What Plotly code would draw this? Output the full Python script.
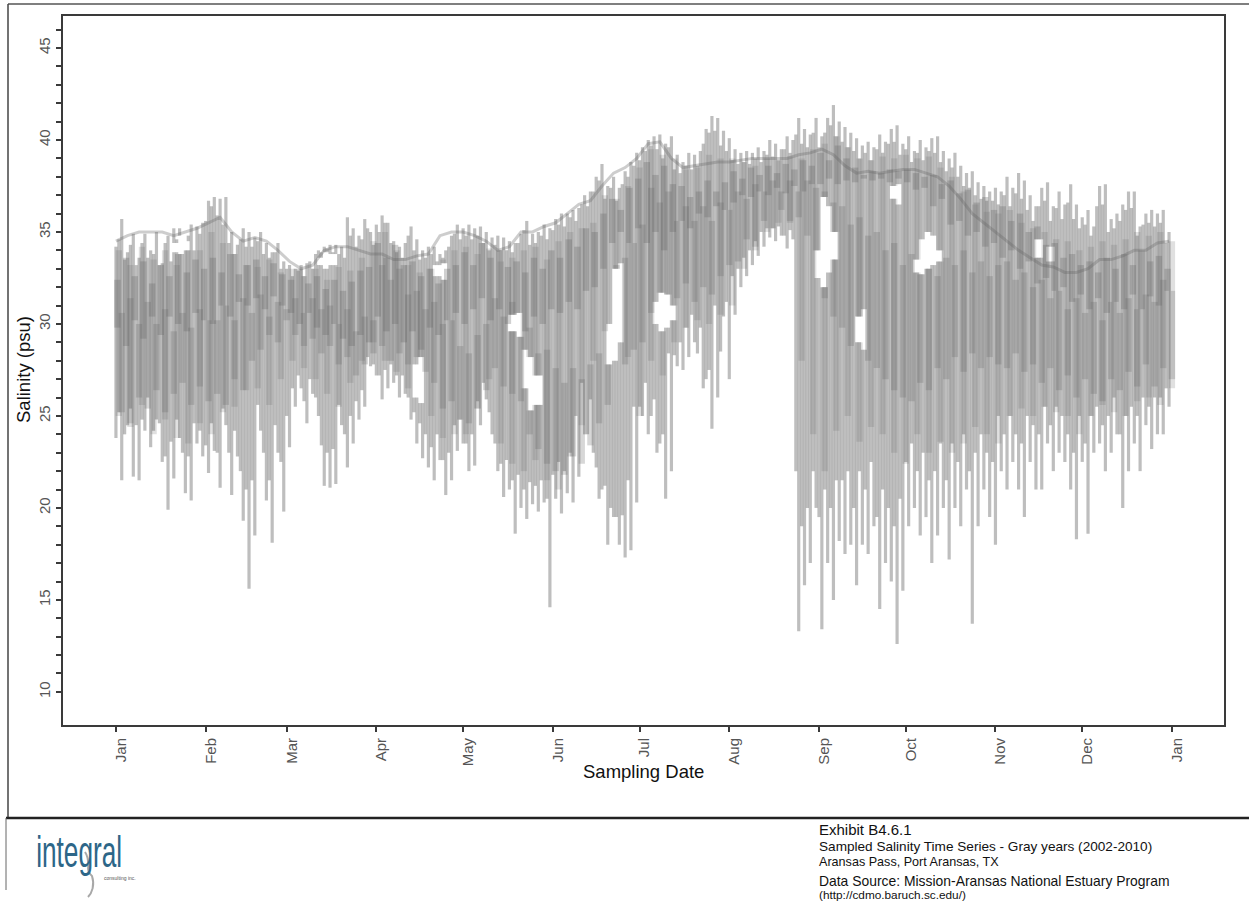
import plotly.graph_objects as go

month_days = [0, 31, 59, 90, 120, 151, 181, 212, 243, 273, 304, 334, 365]
month_labels = ["Jan", "Feb", "Mar", "Apr", "May", "Jun", "Jul", "Aug", "Sep", "Oct", "Nov", "Dec", "Jan"]
salinity_ticks = list(range(10, 47))

# readings every 2 days: the outer reach of all the years
outer_days = list(range(0, 365, 2))
outer_low = [
    23.8, 21.5, 24.5, 21.7, 21.5, 24.2, 23.3, 24.8, 22.5, 19.9, 21.6, 23.8, 20.8, 20.4, 23.5, 22.8,
    21.9, 23.1, 21.1, 24.5, 20.7, 22.8, 19.3, 15.6, 18.5, 24.2, 20.4, 18.1, 23, 19.8,
    23.3, 25.5, 26.5, 24.6, 26.2, 25, 21.2, 21.1, 21.3, 24.5, 22.2, 23.5, 24.8, 25.5, 27.7,
    27.2, 25.9, 26.5, 26.8, 26, 26.2, 24.8, 23.5, 22.7, 22.2, 21.5, 22.6, 20.7, 21.5, 23.1,
    23.5, 22, 22.3, 24.5, 25.9, 24, 22, 20.6, 21, 18.6, 20, 19.4, 20.2, 19.8, 20.3, 14.6,
    20.5, 19.7, 20.8, 20.3, 21.7, 24, 25.9, 22.2, 21, 18, 19.5, 18, 17.3, 17.7, 20.3,
    25, 24, 25.9, 23.5, 20.5, 22, 27.7, 27.5, 28.2, 29, 29.8, 27, 24.3, 26, 30.4,
    27, 30.5, 32, 32.6, 33.2, 33.7, 34.2, 34.7, 34.5, 34.8, 34.1, 34.6, 13.3, 15.8, 17, 20,
    13.4, 17, 15, 18.2, 17.5, 18, 15.8, 18, 17.5, 19, 14.5, 17, 16, 12.6, 15.5,
    19, 20, 18.5, 19.5, 17, 18.5, 20, 17.2, 20, 19, 21, 13.7, 19, 21, 19.5,
    18, 22, 21, 22.5, 21, 19.5, 22.5, 21, 21, 23.5, 22, 23, 22.5, 21, 18.3,
    22.5, 18.6, 23, 23.5, 22, 23, 24, 20, 22, 23.5, 22, 24.5, 23.2, 24, 24, 25.5,
]
outer_high = [
    34.2, 35.7, 33.9, 34.9, 33.6, 34.9, 34, 35, 33.3, 34.8, 35.2, 35.2, 34.2, 35.4, 35.3, 35.5,
    36.7, 36.9, 36.8, 36.9, 35, 34.3, 35.2, 35, 34.7, 35, 34.4, 33.9, 34.4, 33.4,
    33.2, 33, 33.2, 33.3, 33, 34, 34.2, 34.3, 34.3, 34.2, 35.8, 35.2, 34.8, 35.7, 35,
    35.4, 35.9, 35.5, 34.5, 34.2, 34.4, 35.3, 34.6, 34, 34.2, 34.2, 33.8, 34, 34.8, 35.4,
    35.2, 35.4, 35.2, 35.3, 35, 34.7, 34.8, 34.7, 34.5, 34.4, 34.9, 35.6, 34.9, 35, 35.4, 35.2,
    35.7, 36, 36, 36.2, 36.3, 37, 37.2, 38, 38.7, 37.5, 38, 37.4, 38.3, 38.8, 39.3,
    39.6, 40, 40.2, 40.3, 39.8, 40.2, 39.2, 38.8, 39.3, 39.2, 39.4, 40.6, 41.3, 41.2, 40.5,
    40.1, 39.5, 39.3, 39.4, 39.3, 39.6, 39.4, 40, 39.8, 39.5, 40.2, 40, 41.2, 40.6, 40.3, 41.2,
    40.2, 41.2, 41.9, 41, 40.7, 40.4, 40.1, 39.7, 39.9, 39.6, 40.3, 39.9, 40.6, 40.8, 39.8,
    40.2, 39.4, 40, 39.6, 40.1, 40.2, 39.4, 39, 39.3, 38.6, 38.2, 38.3, 37.7, 37.5, 37.2,
    37.4, 37.2, 38, 37.4, 38.2, 37.8, 37, 36.4, 37.4, 37.7, 36.4, 37.2, 36.5, 37.6, 36.5,
    35.8, 36.2, 35.3, 37.5, 37.6, 35.7, 36, 36.5, 37.2, 37.2, 35.3, 36, 36.2, 36, 36.2, 35,
]

# readings on the odd days: a second, slightly tighter comb
inner_days = list(range(1, 365, 2))
inner_high = [
    34.6, 33.5, 34.3, 33.2, 34.4, 33.6, 33.8, 33.2, 34.4, 33.4, 34.6, 33.8, 34.8, 34, 34.9,
    35.6, 36.4, 35.9, 35.4, 34.4, 33.8, 34.6, 34.2, 34.2, 34.5, 33.8, 33.6, 33.9, 33,
    33, 32.6, 32.9, 32.6, 33.4, 33.8, 33.9, 34.1, 33.9, 33.8, 33.6, 34.8, 34.2, 34.6, 35.2, 34.3,
    35, 35.5, 34.4, 33.9, 33.6, 34.8, 34, 33.5, 33.6, 33.8, 33.4, 33.6, 34.2, 34.9, 34.6,
    34.8, 34.6, 34.8, 34.4, 34, 34.3, 34, 34, 33.9, 34.4, 35.1, 34.3, 34.4, 34.8, 34.6,
    35.1, 35.4, 35.3, 35.8, 35.6, 36.5, 36.4, 37.2, 37.8, 36.8, 37.4, 36.7, 37.6, 38, 38.6,
    38.9, 39.4, 39.7, 39.5, 39, 39.6, 38.4, 38.2, 38.6, 38.4, 38.6, 39.8, 40.4, 40.5, 39.7, 39.4,
    38.9, 38.7, 38.8, 38.7, 39, 38.8, 39.2, 39.1, 38.9, 39.5, 39.3, 40.3, 39.8, 39.6, 40.4,
    39.6, 40.4, 40.8, 40.2, 39.9, 39.6, 39.4, 39, 39.3, 38.9, 39.5, 39.3, 39.8, 39.9, 39.2,
    39.5, 38.8, 39.3, 38.9, 39.4, 39.3, 38.8, 38.3, 38.5, 38, 37.5, 37.4, 37, 36.8, 36.7, 36.7,
    36.5, 37, 36.4, 37.1, 36.8, 36.2, 35.6, 36.4, 36.7, 35.6, 36.3, 35.7, 36.6, 35.7, 35.2,
    35.4, 34.8, 36.4, 36.5, 35, 35.2, 35.6, 36.2, 36.3, 34.8, 35.4, 35.5, 35.3, 35.5, 34.4,
]
inner_low = [
    25.2, 24, 25.4, 24.5, 24.8, 26, 24.2, 24.6, 22.8, 23.6, 24.8, 23, 22.8, 24.6, 24.2,
    23.4, 24.6, 23, 25.4, 23, 24.2, 22, 21, 21.5, 25.6, 23, 21.5, 24.5, 22.5,
    25, 26.5, 27.2, 25.8, 27, 26, 23.4, 23, 23.2, 25.6, 24, 25, 25.8, 26.4, 28.2, 27.8,
    27.2, 27.5, 27.8, 27.2, 27.2, 26, 25.2, 24.6, 24, 23.3, 24, 22.6, 23, 24.5, 24.8,
    23.5, 24, 25.8, 26.8, 25.2, 23.5, 22.4, 22.6, 21.5, 21.8, 21, 21.4, 21.2, 21.5, 20.5,
    21.8, 22.5, 22, 23, 25, 26.8, 24, 23, 20.5, 21.2, 20, 19.5, 19.6, 21.5, 25.5,
    25.5, 26.8, 25, 23, 24, 28.4, 28.3, 29, 29.8, 30.5, 28.4, 26.5, 27.5, 31, 28.5, 31.2,
    32.6, 33, 33.6, 34, 34.5, 35, 35.2, 35.2, 35.3, 34.8, 35.1, 22, 19, 20, 22,
    19.5, 21, 20, 21.5, 21.5, 22, 20, 22, 21, 22.5, 19.5, 21, 20, 19, 20.5,
    22.5, 23.5, 22, 23, 21.5, 22, 23.5, 21.5, 23.5, 22.5, 24, 22, 23, 24, 23, 22.5,
    25, 24, 25, 24, 23.5, 25, 24.5, 24, 25.5, 24.5, 25.5, 25, 24, 23, 25,
    23.5, 25, 25.5, 24.5, 25, 26, 24, 25, 25.5, 25, 26, 25.5, 26, 26, 26.5,
]

# readings every 4 days: the body of the years
band_days = list(range(0, 365, 4))
mid_high = [
    34, 33.2, 34.2, 33.5, 34, 33.2, 34.3, 34,
    35, 34.4, 33.8, 33.2, 33.1, 33.5, 32.8,
    33, 32.6, 33, 32.4, 33.1, 32.9, 33.6, 34.5,
    35, 34, 33.2, 32.8, 33, 33.5, 34,
    34.2, 33.8, 34.1, 33.4, 33.6, 34, 34.2, 33.5,
    34.5, 35, 35.2, 35.5, 37, 36.8, 37.5, 38.5,
    39.5, 39.2, 39, 38.4, 38.5, 39.2, 39,
    39, 38.8, 38.6, 39, 38.9, 39.1, 39, 39.5,
    39.8, 40.2, 39.6, 39, 38.9, 39.1, 39, 39.2,
    39, 39.1, 38.5, 38, 37.2, 36.5, 36.1,
    36, 36.2, 35.5, 35.2, 35, 34.6, 34.5, 34,
    34.2, 34.5, 34.3, 34.6, 35, 34.8, 35, 34.5,
]
mid_low = [
    25, 24.4, 25.6, 24, 24.8, 23.8, 23.5, 24.6,
    24, 25.2, 25.5, 26.4, 26.5, 25.6, 27,
    28, 27.6, 27, 26.2, 25.5, 26.8, 28, 29,
    28, 27.4, 26.5, 26.2, 25, 23.8, 24,
    24, 25.4, 27, 23.5, 22.4, 22, 22.6, 21.5,
    21, 22.8, 24.5, 28, 29.6, 29, 28.2, 25,
    28, 27.2, 29, 29.8, 30.2, 30, 30.5,
    31, 33, 34, 35, 35.5, 35.5, 28, 24,
    22, 24.2, 25, 23.6, 24.4, 24, 23, 22.4,
    24, 23, 23.6, 23, 23.5, 24.4, 24,
    23.5, 25, 25.4, 25, 25.5, 25.2, 25, 24,
    25, 25.6, 25.2, 25, 25.8, 26, 25.6, 26.5,
]

# readings every 3 days: the two dark ridges where most years lie
ridge_days = list(range(0, 365, 3))
ridge_a_high = [
    32.4, 33.6, 32.6, 33.4, 32.2, 33.2, 32.6, 33.8, 32.8, 33.5, 33,
    33.6, 32.8, 33.8, 32.7, 33.2, 33.5, 32.6, 33.3, 32.7,
    32.4, 33, 32.2, 32.6, 31.9, 32.4, 31.8, 32.3, 32.9, 33.1,
    34.4, 33.6, 34.3, 33.2, 33.4, 32.6, 33, 32.2, 33, 33.2,
    33.9, 33.2, 34.4, 33.6, 34, 33.1, 33.4, 32.8, 33.6, 33, 34,
    33.6, 34.6, 34.2, 35.2, 35, 36, 36.8, 36.2, 37.4, 37.9,
    38.8, 38.1, 38.6, 37.6, 37.5, 36.9, 37.2, 37.8, 37.2, 37.7,
    38.3, 37.9, 38.5, 38.1, 38.6, 38.2, 38.7, 38.4, 38.9, 38.6,
    39.3, 38.9, 39.7, 39, 38.5, 38.1, 38.3, 38.2, 38.4, 38.3,
    38.4, 38.2, 38, 38.1, 37.6, 37.8, 37.1, 37.3, 36.6, 36.9, 36.2,
    36.4, 35.6, 36, 35, 35.3, 34.3, 34.4, 33.6, 33.8, 33.2,
    33.4, 32.8, 33.6, 33, 33.8, 33.2, 34, 33.4, 33.7, 33,
]
ridge_a_low = [
    29.8, 28.8, 30.2, 29.2, 30.4, 29.4, 30.4, 30, 29.6, 30.6, 30.2,
    30, 31, 30.4, 31.2, 31, 31.4, 30.8, 31.5, 31,
    30.6, 30, 30.6, 29.8, 29.4, 30, 29.2, 28.8, 29.4, 29,
    30.4, 29.6, 30, 29, 29.6, 28.6, 29.8, 29.4, 30.2, 30.6,
    30, 30.8, 31.4, 30.2, 30.8, 30, 30.6, 29.6, 30.4, 30, 30.8,
    30.6, 31.2, 30.8, 31.8, 32, 33, 34.4, 35, 34.4, 35.2,
    34.4, 35, 34, 35, 35.6, 35.2, 36, 35.8, 36.4, 36.2,
    36.6, 37, 36.9, 37.2, 37, 37.4, 37.1, 37.5, 37.2, 37.6,
    37.6, 37.9, 37.6, 37.8, 37.7, 37.9, 37.8, 37.9, 37.7, 37.9,
    37.7, 37.3, 37.4, 36.4, 36.8, 35.4, 35.6, 34.8, 35, 34.2, 34.4,
    33.6, 34, 33, 33.4, 32.2, 32.5, 31.8, 32, 31.2, 31.6,
    30.8, 31.4, 30.6, 31.2, 30.8, 31.6, 30.8, 31.5, 31, 31.8,
]
ridge_b_high = [
    30.6, 31.4, 30, 31.2, 30, 30.8, 29.6, 30.6, 29.8, 30.8, 30.2,
    30.2, 31, 30.2, 31.4, 30.6, 31.6, 30.4, 31.2, 30.8,
    31.4, 30.6, 31.4, 30.8, 31, 30, 30.8, 29.6, 30.4, 30.2,
    33.2, 32.4, 33, 31.6, 31.8, 30.8, 31.2, 30, 30.2, 28.8,
    28.4, 29.4, 30, 31.4, 30.4, 31.2, 29.6, 29.8, 28.4, 28.6, 27.6,
    26.8, 27.6, 27, 27.8, 28.4, 30, 33.2, 33.6, 34.4, 35.4,
    37.4, 36.6, 37.2, 35.6, 36.4, 35.6, 36.4, 35.6, 36.6, 36.2,
    37.2, 36.8, 37.6, 37.2, 37.8, 37.2, 37.8, 37.2, 37.8, 37.4,
    37.2, 36.6, 36.4, 35.4, 35.8, 34.8, 35, 34, 34.4, 33.2,
    33.8, 33, 33.4, 32.6, 33.6, 33.2, 34, 32.8, 33.4, 32.6, 33.2,
    33.4, 32.4, 32.8, 32, 32.4, 31.4, 31.8, 30.8, 31.4, 30.6,
    31.2, 30.2, 31.2, 30.6, 31.4, 30.8, 31.6, 31.2, 32.4, 31.8,
]
ridge_b_low = [
    25.2, 24.6, 26, 25.4, 26.4, 25.2, 26.2, 26.8, 25.6, 26.6, 25.8,
    26.2, 25.6, 27, 26.4, 28, 28.6, 29.4, 29, 30.2,
    29.4, 28.8, 29.2, 28.4, 28.8, 27.8, 28.2, 27.2, 27.8, 28.4,
    28.8, 28, 28.4, 27.8, 28.2, 27.4, 26.8, 25.4, 25.8, 24.8,
    24.6, 25.4, 26.4, 27.6, 26.6, 26.2, 25.8, 24, 23.2, 22.4, 22,
    21.8, 22.8, 22.4, 23.4, 24.6, 25.6, 28, 27.8, 28.6, 29,
    30.6, 31, 29.8, 31.4, 32.2, 31.2, 32, 31.6, 32.6, 33.2,
    33.4, 34.6, 34.2, 35.6, 35.2, 36.2, 35.6, 35.8, 34.8, 33.2,
    31.4, 30.4, 29.8, 28.8, 29.2, 28, 27.6, 27, 26.4, 26,
    25.8, 26.8, 26.4, 27.6, 27, 28.2, 27.4, 28.4, 27.6, 28.2, 27.8,
    27.6, 28.4, 27.4, 27.8, 26.8, 27.6, 26.4, 27.2, 26, 27,
    26.2, 25.8, 27, 26.4, 27.4, 26.6, 27.8, 26.6, 27.6, 27,
]

# one year followed as a line along the top
year_upper = [
    34.5, 34.8, 35, 35, 35, 34.8, 35, 35.2,
    35.5, 35.8, 35, 34.5, 34.7, 34.5, 34,
    33.4, 33, 33.2, 34, 34.2, 34.2, 34, 33.8,
    33.8, 33.5, 33.5, 33.7, 33.8, 34.8, 35,
    35, 34.8, 34.5, 34, 34.2, 35, 35, 35.3,
    35.5, 36, 36.5, 36.7, 37.5, 38.2, 38.5, 39,
    39.8, 39.9, 39, 38.5, 38.6, 38.7, 38.8,
    38.8, 38.9, 39, 39, 39, 39, 39.2, 39.3,
    39.5, 39.2, 38.6, 38.2, 38.3, 38.2, 38.3, 38.4,
    38.4, 38.2, 38, 37.5, 36.8, 36, 35.5,
    35, 34.5, 34, 33.6, 33.2, 33.1, 32.8, 32.8,
    33, 33.5, 33.5, 33.7, 34, 34, 34.4, 34.5,
]

# the white holes left between the years
gap_start = [20, 22, 24, 70, 72, 74, 103, 105, 110, 113, 136, 139, 141, 143, 145, 170, 172, 174,
             186, 188, 190, 192, 242, 244, 246, 248, 256, 258, 268, 270, 276, 278, 280, 282, 284, 318, 322]
gap_end = [21, 23, 25, 71, 73, 76, 104, 106, 112, 114, 138, 140, 142, 144, 147, 171, 173, 175,
           187, 189, 191, 193, 243, 245, 247, 249, 257, 259, 269, 271, 277, 279, 281, 283, 285, 320, 324]
gap_top = [34.4, 34.8, 34.5, 33.6, 33.9, 33.8, 27.8, 28.2, 33.2, 33.3, 30.5, 30.6, 28.6, 28.2, 27.2, 30, 33, 33.3,
           31.2, 31.7, 31.6, 31, 34, 36.9, 36.4, 35, 30.4, 30.8, 37.5, 37.6, 33.5, 34.6, 35, 34.8, 34, 34.6, 34.2]
gap_bottom = [33.9, 33.8, 34, 33.2, 33, 33.2, 26, 25.7, 32.6, 32.4, 29.6, 29.3, 26.5, 25.3, 25.6, 27.8, 28, 29,
              30, 29.6, 29.8, 30.2, 32.5, 32, 32.8, 33.5, 29, 28.6, 36.8, 36.5, 32.8, 32.7, 33, 33.2, 33.4, 33.6, 33.4]

footer_lines = [
    "Exhibit B4.6.1",
    "Sampled Salinity Time Series - Gray years (2002-2010)",
    "Aransas Pass, Port Aransas, TX",
    "Data Source: Mission-Aransas National Estuary Program",
    "(http://cdmo.baruch.sc.edu/)",
]

W, H = 1249, 905
FONT = "Liberation Sans"


def px(x):
    return x / W


def py(y):
    return 1 - y / H


def layer(days, lows, highs, width, shift, alpha):
    xs, bases, heights = [], [], []
    for d, lo, hi in zip(days, lows, highs):
        pieces = [(lo, hi)]
        for s, e, t, b in zip(gap_start, gap_end, gap_top, gap_bottom):
            if s <= d + shift <= e:
                split = []
                for a, c in pieces:
                    if a < b:
                        split.append((a, min(c, b)))
                    if c > t:
                        split.append((max(a, t), c))
                pieces = split
        for a, c in pieces:
            xs.append(d + shift)
            bases.append(a)
            heights.append(c - a)
    return go.Bar(
        x=xs, y=heights, base=bases, width=width,
        marker=dict(color=f"rgba(100,100,100,{alpha})", line=dict(width=0)),
        hoverinfo="skip", showlegend=False,
    )


fig = go.Figure()
fig.add_trace(layer(outer_days, outer_low, outer_high, 1.1, 0, 0.42))
fig.add_trace(layer(inner_days, inner_low, inner_high, 1.1, 0, 0.42))
fig.add_trace(layer(band_days, mid_low, mid_high, 2.2, 1, 0.2))
fig.add_trace(layer(ridge_days, ridge_a_low, ridge_a_high, 2.2, 0.5, 0.3))
fig.add_trace(layer(ridge_days, ridge_b_low, ridge_b_high, 2.2, 2, 0.26))
fig.add_trace(go.Scatter(x=band_days, y=year_upper, mode="lines",
                         line=dict(color="rgba(100,100,100,0.32)", width=3),
                         hoverinfo="skip", showlegend=False))

axis_line = dict(showline=True, linecolor="#3a3a3a", linewidth=2, mirror=True, showgrid=False, zeroline=False,
                 ticks="outside", ticklen=5, tickwidth=2, tickcolor="#3a3a3a", tickangle=-90,
                 tickfont=dict(family=FONT, size=15, color="#555555"))

fig.update_layout(
    width=W, height=H, margin=dict(l=0, r=0, t=0, b=0), barmode="overlay",
    paper_bgcolor="white", plot_bgcolor="white",
    xaxis=dict(domain=[px(63), px(1224)], range=[-18.3, 383], tickmode="array",
               tickvals=month_days, ticktext=month_labels, ticklabelshift=5, **axis_line),
    yaxis=dict(domain=[py(725), py(16)], range=[8.2, 46.74], tickmode="array",
               tickvals=salinity_ticks,
               ticktext=[str(v) if v % 5 == 0 else "" for v in salinity_ticks], **axis_line),
    shapes=[
        dict(type="line", xref="paper", yref="paper", x0=px(8), x1=px(1249), y0=py(4), y1=py(4),
             line=dict(color="#555555", width=1.5)),
        dict(type="line", xref="paper", yref="paper", x0=px(8), x1=px(8), y0=py(4), y1=py(818),
             line=dict(color="#444444", width=1.5)),
        dict(type="line", xref="paper", yref="paper", x0=px(6), x1=px(1249), y0=py(818), y1=py(818),
             line=dict(color="#222222", width=2.5)),
        dict(type="line", xref="paper", yref="paper", x0=px(6), x1=px(6), y0=py(818), y1=py(890),
             line=dict(color="#666666", width=1)),
        dict(type="path", xref="paper", yref="paper",
             path=f"M {px(85)} {py(852)} C {px(92)} {py(862)}, {px(84)} {py(870)}, {px(92)} {py(876)}"
                  f" C {px(95)} {py(885)}, {px(92)} {py(893)}, {px(88)} {py(897)}",
             line=dict(color="#a8a8a8", width=2)),
    ],
)


def note(x, y, text, size, color="#111111", anchor="left", angle=0):
    fig.add_annotation(xref="paper", yref="paper", x=px(x), y=py(y), text=text, showarrow=False,
                       xanchor=anchor, yanchor="middle", textangle=angle,
                       font=dict(family=FONT, size=size, color=color))


note(23, 370, "Salinity (psu)", 18.5, anchor="center", angle=-90)
note(643, 771, "Sampling Date", 18.5, anchor="center")
note(79, 851, "integral", 44, color="#2d6688", anchor="center")
note(102, 878, "consulting inc.", 5, color="#555555", anchor="left")
for y, text, size in zip([829, 846, 862, 881, 895], footer_lines, [15, 13.6, 12.6, 13.9, 11.8]):
    note(817, y, text, size)

squeeze_logo = """
document.body.style.margin='0';document.body.style.overflow='hidden';
document.querySelectorAll('.annotation-text').forEach(function(t){
  if(t.textContent==='integral'){t.setAttribute('textLength','86');t.setAttribute('lengthAdjust','spacingAndGlyphs');}
});
"""
fig.write_html("out.html", post_script=squeeze_logo, config={"displayModeBar": False})
